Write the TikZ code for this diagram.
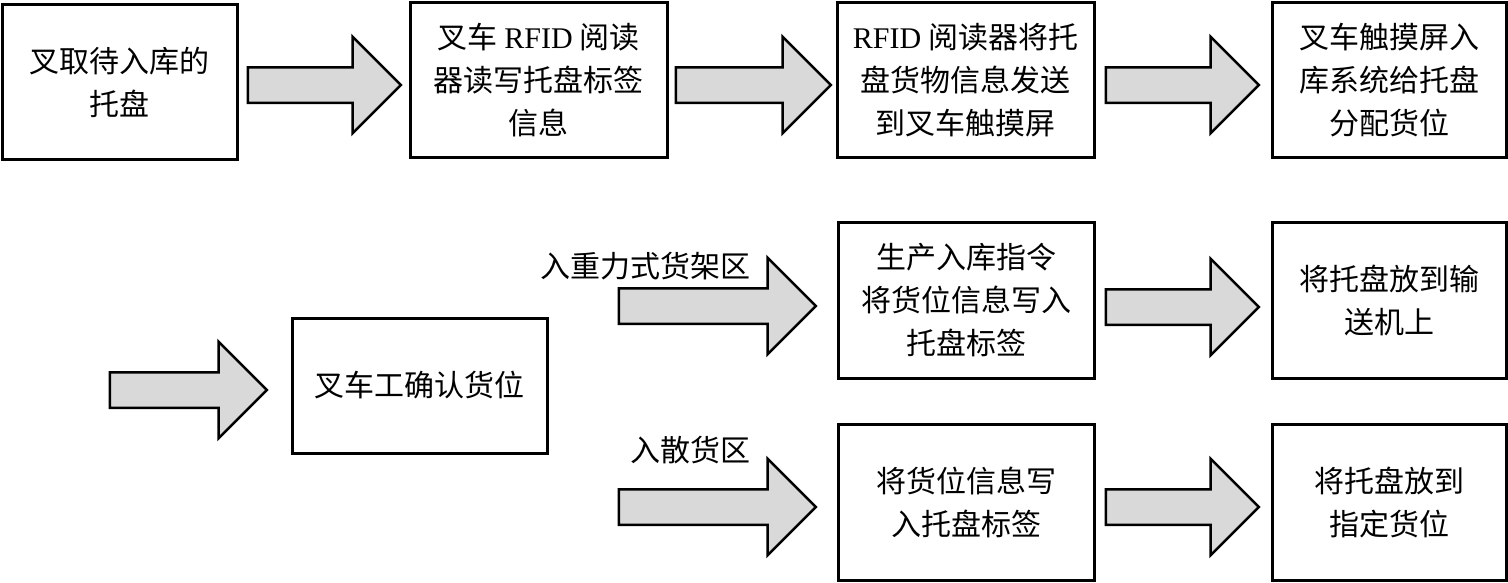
\documentclass[tikz,border=0pt]{standalone}
\usepackage{fontspec}
\setmainfont{Liberation Serif}
\newfontfamily\cjk{Noto Sans CJK SC}
\usetikzlibrary{shapes.arrows}
\begin{document}
\begin{tikzpicture}[x=1pt,y=-1pt,
  box/.style={draw, line width=3pt, minimum width=#1, minimum height=155pt,
    align=center, inner sep=0pt, font=\cjk\fontsize{30}{43}\selectfont},
  barrow/.style={single arrow, draw, line width=2.5pt, fill=black!15,
    minimum height=#1, single arrow head extend=30.5pt,
    inner xsep=0pt, inner ysep=16.5pt, outer sep=0pt},
  lbl/.style={inner sep=0pt, font=\cjk\fontsize{30}{36}\selectfont}]
\useasboundingbox (0,0) rectangle (1508,582);
% top row
\node[box=235pt] (b1) at (119.5,82) {叉取待入库的\\托盘};
\node[box=257pt] (b2) at (538.5,80) {叉车 {\rmfamily RFID} 阅读\\器读写托盘标签\\信息};
\node[box=257pt] (b3) at (965.5,80) {{\rmfamily RFID} 阅读器将托\\盘货物信息发送\\到叉车触摸屏};
\node[box=234pt] (b4) at (1389,80) {叉车触摸屏入\\库系统给托盘\\分配货位};
\node[barrow=153pt] (a1) at (315.5,85) {};
\node[barrow=155pt] (a2) at (744.5,85) {};
\node[barrow=153pt] (a3) at (1173.5,85) {};
% second part
\node[barrow=157pt] (a4) at (179.5,390) {};
\node[box=255pt, minimum height=135pt] (b5) at (419.5,385.5) {叉车工确认货位};
\node[box=256pt, minimum height=156pt] (b6) at (966,300) {生产入库指令\\将货位信息写入\\托盘标签};
\node[box=234pt, minimum height=156pt] (b7) at (1389,300) {将托盘放到输\\送机上};
\node[box=256pt, minimum height=156pt] (b8) at (966,502) {将货位信息写\\入托盘标签};
\node[box=234pt, minimum height=156pt] (b9) at (1389,502) {将托盘放到\\指定货位};
\node[barrow=197pt] (a5) at (708.5,306) {};
\node[barrow=153pt] (a6) at (1173.5,307) {};
\node[barrow=197pt] (a7) at (708.5,507) {};
\node[barrow=153pt] (a8) at (1173.5,507) {};
\node[lbl] (l1) at (645,266) {入重力式货架区};
\node[lbl] (l2) at (690,450) {入散货区};
\end{tikzpicture}
\end{document}
